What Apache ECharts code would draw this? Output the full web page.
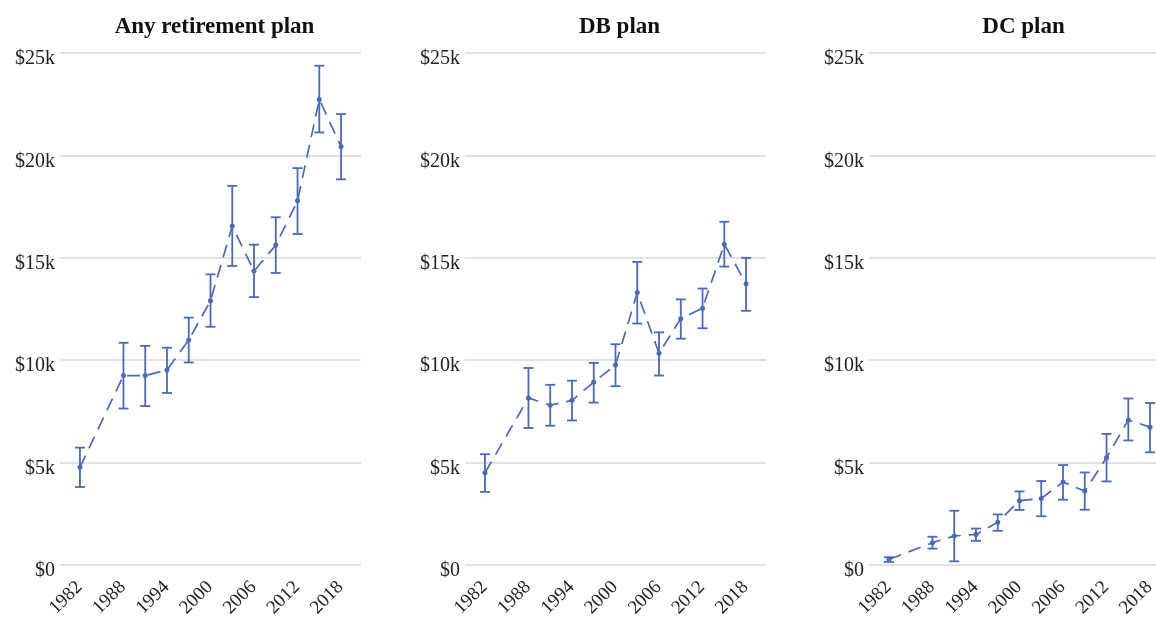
<!DOCTYPE html>
<html>
<head>
<meta charset="utf-8">
<script src="https://cdn.jsdelivr.net/npm/echarts@6/dist/echarts.min.js"></script>
<style>
  html, body { margin: 0; padding: 0; background: #fff; }
  #chart { width: 1156px; height: 620px; }
</style>
</head>
<body>
<div id="chart"></div>
<script>
  // survey years and axis ticks
  const years = [1983, 1989, 1992, 1995, 1998, 2001, 2004, 2007, 2010, 2013, 2016, 2019];
  const xTickLabels = [1982, 1988, 1994, 2000, 2006, 2012, 2018];
  const yTicks = [0, 5000, 10000, 15000, 20000, 25000];
  const panelTitles = ['Any retirement plan', 'DB plan', 'DC plan'];

  // Any retirement plan
  const anyMean = [4770, 9250, 9250, 9520, 10990, 12900, 16550, 14350, 15620, 17780, 22730, 20430];
  const anyLow  = [3810, 7640, 7760, 8400, 9890, 11630, 14600, 13080, 14260, 16160, 21120, 18830];
  const anyHigh = [5730, 10850, 10700, 10610, 12080, 14190, 18510, 15640, 16980, 19380, 24380, 22020];

  // DB plan
  const dbMean = [4500, 8160, 7800, 8040, 8930, 9760, 13300, 10340, 12030, 12540, 15660, 13730];
  const dbLow  = [3570, 6690, 6800, 7060, 7930, 8730, 11790, 9250, 11050, 11560, 14570, 12410];
  const dbHigh = [5410, 9620, 8800, 9000, 9870, 10780, 14800, 11360, 12970, 13500, 16760, 15000];

  // DC plan
  const dcMean = [270, 1090, 1420, 1490, 2090, 3140, 3250, 4050, 3610, 5240, 7080, 6730];
  const dcLow  = [150, 800, 180, 1180, 1670, 2690, 2380, 3190, 2700, 4080, 6080, 5500];
  const dcHigh = [380, 1380, 2650, 1780, 2470, 3590, 4100, 4880, 4520, 6400, 8130, 7910];

  const panels = [
    { mean: anyMean, low: anyLow, high: anyHigh },
    { mean: dbMean, low: dbLow, high: dbHigh },
    { mean: dcMean, low: dcLow, high: dcHigh }
  ];

  const blue = '#4a69b8';
  const fontFamily = '"Liberation Serif", "DejaVu Serif", serif';
  const gridLefts = [60, 465, 869];
  const gridWidth = 301;
  const gridTop = 53;
  const gridHeight = 512;

  const myChart = echarts.init(document.getElementById('chart'));

  // vertical bar with caps, from low to high
  function errorBar(params, api) {
    const x = api.value(0);
    const hi = api.coord([x, api.value(2)]);
    const lo = api.coord([x, api.value(1)]);
    const w = 5;
    const style = { stroke: blue, lineWidth: 1.8, fill: null };
    return {
      type: 'group',
      children: [
        { type: 'line', shape: { x1: hi[0], y1: hi[1], x2: lo[0], y2: lo[1] }, style: style },
        { type: 'line', shape: { x1: hi[0] - w, y1: hi[1], x2: hi[0] + w, y2: hi[1] }, style: style },
        { type: 'line', shape: { x1: lo[0] - w, y1: lo[1], x2: lo[0] + w, y2: lo[1] }, style: style }
      ]
    };
  }

  const grids = [], xAxes = [], yAxes = [], series = [], titles = [];
  panels.forEach((p, i) => {
    grids.push({
      left: gridLefts[i], top: gridTop, width: gridWidth, height: gridHeight,
      outerBoundsMode: 'none', containLabel: false
    });
    xAxes.push({
      type: 'value',
      gridIndex: i,
      min: 1980.25,
      max: 2021.75,
      axisLine: { show: false },
      axisTick: { show: false },
      splitLine: { show: false },
      axisLabel: {
        customValues: xTickLabels,
        rotate: 45,
        margin: 4,
        verticalAlign: 'top',
        padding: [6, 6, 0, 0],
        fontFamily: fontFamily,
        fontSize: 19,
        color: '#222',
        formatter: v => String(v)
      }
    });
    yAxes.push({
      type: 'value',
      gridIndex: i,
      min: yTicks[0],
      max: yTicks[yTicks.length - 1],
      interval: 5000,
      axisLine: { show: false },
      axisTick: { show: false },
      splitLine: { lineStyle: { color: '#d8d8d8', width: 1.5 } },
      axisLabel: {
        margin: 5,
        verticalAlign: 'top',
        lineHeight: 12,
        fontFamily: fontFamily,
        fontSize: 20,
        color: '#222',
        formatter: v => v === 0 ? '$0' : '$' + (v / 1000) + 'k'
      }
    });
    series.push({
      type: 'line',
      xAxisIndex: i,
      yAxisIndex: i,
      data: years.map((y, k) => [y, p.mean[k]]),
      symbol: 'circle',
      symbolSize: 5,
      itemStyle: { color: blue },
      lineStyle: { color: blue, width: 1.7, type: [13, 8] },
      animation: false,
      z: 3
    });
    series.push({
      type: 'custom',
      xAxisIndex: i,
      yAxisIndex: i,
      renderItem: errorBar,
      encode: { x: 0, y: [1, 2] },
      data: years.map((y, k) => [y, p.low[k], p.high[k]]),
      animation: false,
      z: 2
    });
    titles.push({
      type: 'text',
      x: gridLefts[i] + gridWidth / 2 + 4,
      y: 27,
      style: {
        text: panelTitles[i],
        align: 'center',
        verticalAlign: 'middle',
        font: 'bold 23px ' + fontFamily,
        fill: '#111'
      }
    });
  });

  myChart.setOption({
    animation: false,
    grid: grids,
    xAxis: xAxes,
    yAxis: yAxes,
    series: series,
    graphic: titles
  });

  window.addEventListener('resize', () => {
    myChart && myChart.resize();
  });
</script>
</body>
</html>
